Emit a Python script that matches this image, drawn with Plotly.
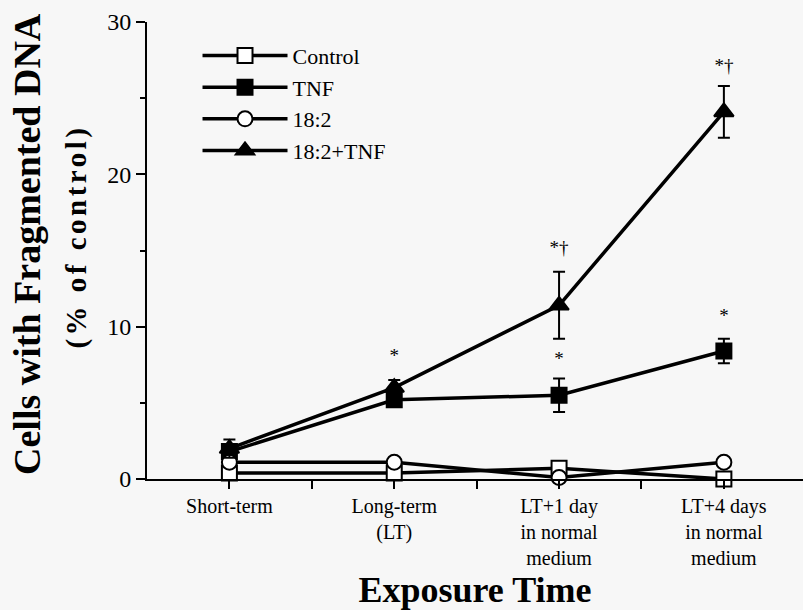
import plotly.graph_objects as go

# ---- data ----
categories = ["Short-term", "Long-term<br>(LT)", "LT+1 day<br>in normal<br>medium",
              "LT+4 days<br>in normal<br>medium"]
control = [0.4, 0.4, 0.7, 0.0]
tnf = [1.8, 5.2, 5.5, 8.4]
tnf_err = [0.3, 0.3, 1.1, 0.8]
la = [1.1, 1.1, 0.1, 1.1]
la_tnf = [2.0, 6.0, 11.4, 24.1]
la_tnf_err = [0.6, 0.5, 2.2, 1.7]
sig_x = [1, 2, 2, 3, 3]
sig_y = [8.0, 15.1, 7.8, 27.0, 10.6]
sig_text = ["*", "*†", "*", "*†", "*"]
y_ticks = [0, 10, 20, 30]

xs = list(range(len(categories)))
BG = "#f7f7f7"
FONT = "Liberation Serif, Times New Roman, serif"

fig = go.Figure()

def add(name, y, symbol, fill, err=None, size=15):
    fig.add_trace(go.Scatter(
        x=xs, y=y, name=name, mode="lines+markers",
        line=dict(color="black", width=3.5),
        marker=dict(symbol=symbol, size=size, color=fill,
                    line=dict(color="black", width=2)),
        error_y=(dict(type="data", array=err, visible=True, color="black",
                      thickness=2, width=6) if err else None),
        cliponaxis=False,
    ))

add("Control", control, "square", "white")
add("TNF", tnf, "square", "black", tnf_err)
add("18:2", la, "circle", "white")
add("18:2+TNF", la_tnf, "triangle-up", "black", la_tnf_err, size=17)

fig.add_trace(go.Scatter(
    x=sig_x, y=sig_y, text=sig_text, mode="text", showlegend=False,
    textfont=dict(family=FONT, size=19, color="black"), cliponaxis=False,
))

tickvals = [v / 2 for v in range(0, 2 * len(categories) - 1)]
ticktext = [categories[int(v)] if v == int(v) else "" for v in tickvals]

fig.update_layout(
    width=803, height=610,
    paper_bgcolor=BG, plot_bgcolor=BG,
    margin=dict(l=147, r=0, t=22, b=131),
    font=dict(family=FONT, color="black"),
    showlegend=True,
    legend=dict(x=0.077, y=0.972, xanchor="left", yanchor="top",
                bgcolor="rgba(0,0,0,0)", font=dict(size=22, family=FONT, color="black"),
                tracegroupgap=0, itemwidth=85),
    xaxis=dict(range=[-0.5, 3.48], tickvals=tickvals, ticktext=ticktext,
               showgrid=False, zeroline=False, showline=True,
               linecolor="black", linewidth=2, ticks="outside", ticklen=8,
               tickwidth=1.5, tickcolor="black",
               tickfont=dict(size=20, family=FONT),
               title=dict(text="<b>Exposure Time</b>",
                          font=dict(size=36, family=FONT), standoff=9)),
    yaxis=dict(range=[0, 30], tickvals=y_ticks, showgrid=False, zeroline=False,
               showline=True, linecolor="black", linewidth=2,
               ticks="outside", ticklen=9, tickwidth=1.5, tickcolor="black",
               tickfont=dict(size=24, family=FONT),
               minor=dict(dtick=5, ticks="outside", ticklen=5, tickwidth=1.5,
                          tickcolor="black", showgrid=False)),
    annotations=[
        dict(text="<b>Cells with Fragmented DNA</b>", textangle=-90,
             xref="paper", yref="paper", x=-0.184, y=0.515,
             xanchor="center", yanchor="middle", showarrow=False,
             font=dict(size=38, family=FONT)),
        dict(text="<b><span style='letter-spacing:3.5px'>(% of control)</span></b>",
             textangle=-90, xref="paper", yref="paper", x=-0.107, y=0.53,
             xanchor="center", yanchor="middle", showarrow=False,
             font=dict(size=29, family=FONT)),
    ],
)

fig.write_html("out.html", config={"displayModeBar": False},
               post_script="document.body.style.margin='0';document.body.style.background='%s';" % BG)
